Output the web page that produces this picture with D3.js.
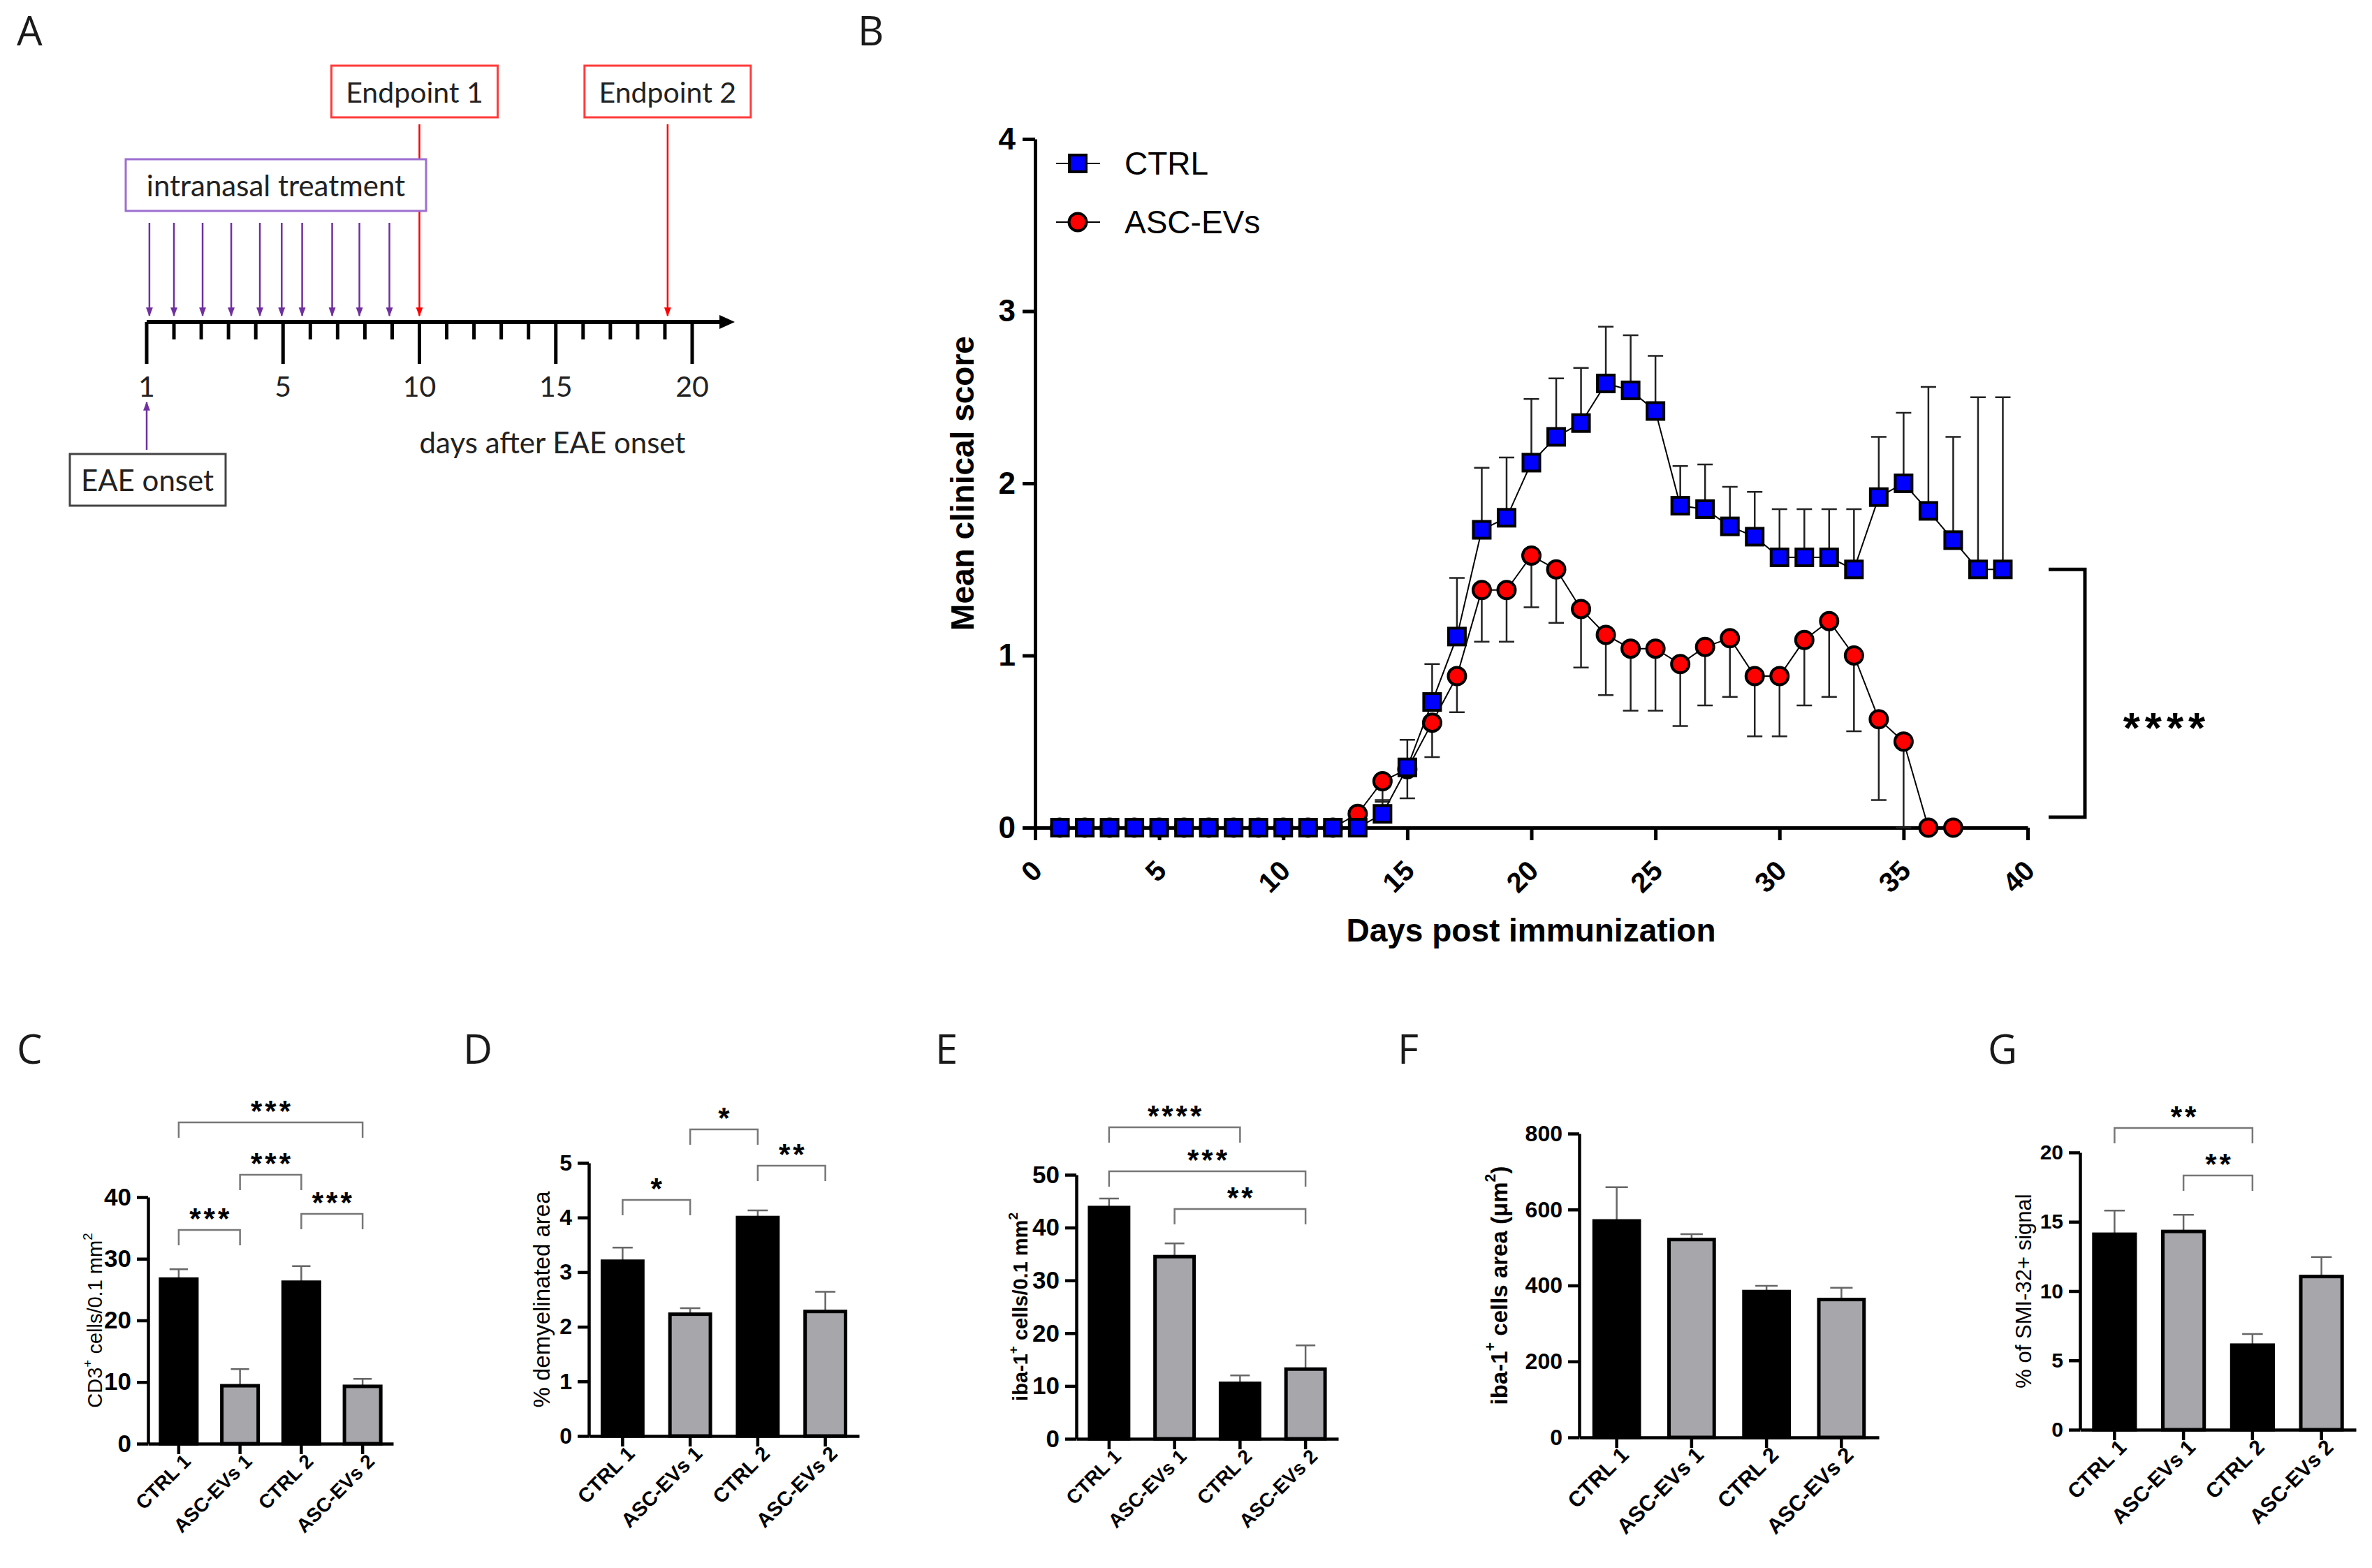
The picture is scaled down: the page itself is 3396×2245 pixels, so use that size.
<!DOCTYPE html>
<html>
<head>
<meta charset="utf-8">
<script src="https://cdn.jsdelivr.net/npm/d3@7"></script>
<style>
  body { margin: 0; background: #fff; }
  text { font-family: "Liberation Sans", Arial, sans-serif; }
</style>
</head>
<body>
<svg id="fig"></svg>
<script>
// ---------- Data ----------
// Panel A: schematic timeline
var timelineTickLabels = ["1", "5", "10", "15", "20"];
var timelineMajor = [0, 5, 10, 15, 20];
var treatmentPos = [0.1, 1.0, 2.05, 3.1, 4.15, 4.95, 5.7, 6.8, 7.8, 8.9];
var endpointPos = [10, 19.1];
var endpointNames = ["Endpoint 1", "Endpoint 2"];

// Panel B: clinical score
var days = [1,2,3,4,5,6,7,8,9,10,11,12,13,14,15,16,17,18,19,20,21,22,23,24,25,26,27,28,29,30,31,32,33,34,35,36,37,38,39];
var ctrlMean = [0,0,0,0,0,0,0,0,0,0,0,0,0,
  0.08,0.35,0.73,1.11,1.73,1.80,2.12,2.27,2.35,2.58,2.54,2.42,1.87,1.85,1.75,1.69,1.57,1.57,1.57,1.50,1.92,2.00,1.84,1.67,1.50,1.50];
var ctrlSem = [0,0,0,0,0,0,0,0,0,0,0,0,0,
  0.08,0.16,0.22,0.34,0.36,0.35,0.37,0.34,0.32,0.33,0.32,0.32,0.23,0.26,0.23,0.26,0.28,0.28,0.28,0.35,0.35,0.41,0.72,0.60,1.00,1.00];
var ascMean = [0,0,0,0,0,0,0,0,0,0,0,0,
  0.08,0.27,0.34,0.61,0.88,1.38,1.38,1.58,1.50,1.27,1.12,1.04,1.04,0.95,1.05,1.10,0.88,0.88,1.09,1.20,1.00,0.63,0.50,0,0];
var ascSem = [0,0,0,0,0,0,0,0,0,0,0,0,
  0,0.12,0.17,0.20,0.21,0.30,0.30,0.30,0.31,0.34,0.35,0.36,0.36,0.36,0.34,0.34,0.35,0.35,0.38,0.44,0.44,0.47,0.50,0,0];
var seriesNames = ["CTRL", "ASC-EVs"];

// Panels C-G: bar charts
var groups = ["CTRL 1", "ASC-EVs 1", "CTRL 2", "ASC-EVs 2"];
var cd3Mean = [26.7, 9.4, 26.2, 9.3];
var cd3Sem = [1.6, 2.7, 2.6, 1.2];
var cd3Sig = [[0, 1, "***"], [1, 2, "***"], [2, 3, "***"], [0, 3, "***"]];
var demyMean = [3.2, 2.23, 4.0, 2.28];
var demySem = [0.25, 0.11, 0.13, 0.36];
var demySig = [[0, 1, "*"], [1, 2, "*"], [2, 3, "**"]];
var iba1Mean = [43.8, 34.5, 10.5, 13.2];
var iba1Sem = [1.7, 2.5, 1.5, 4.5];
var iba1Sig = [[0, 2, "****"], [0, 3, "***"], [1, 3, "**"]];
var ibaAreaMean = [570, 521, 384, 363];
var ibaAreaSem = [89, 14, 15, 31];
var ibaAreaSig = [];
var smiMean = [14.1, 14.3, 6.1, 11.05];
var smiSem = [1.7, 1.2, 0.8, 1.4];
var smiSig = [[0, 2, "**"], [1, 2, "**"]];

// ---------- Setup ----------
var W = 3396, H = 2245;
var svg = d3.select("#fig").attr("width", W).attr("height", H);
svg.append("rect").attr("width", W).attr("height", H).attr("fill", "#fff");
var defs = svg.append("defs");
var intFmt = d3.format("d");

function addMarker(id, color) {
  defs.append("marker")
    .attr("id", id)
    .attr("viewBox", "0 0 10 10")
    .attr("refX", 9).attr("refY", 5)
    .attr("markerWidth", 13).attr("markerHeight", 13)
    .attr("markerUnits", "userSpaceOnUse")
    .attr("orient", "auto")
    .append("path").attr("d", "M0,1.2L10,5L0,8.8Z").attr("fill", color);
}
addMarker("arPurple", "#7030a0");
addMarker("arRed", "#ff0000");

// panel letters
var panelLetters = [["A", 24, 65], ["B", 1228, 65], ["C", 24, 1523], ["D", 663, 1523],
                    ["E", 1339, 1523], ["F", 2001, 1523], ["G", 2846, 1523]];
svg.selectAll(".plabel").data(panelLetters).enter().append("text")
  .attr("x", d => d[1]).attr("y", d => d[2])
  .style("font-family", "'Open Sans', sans-serif")
  .style("font-size", "58px").attr("fill", "#1a1a1a")
  .text(d => d[0]);

// ---------- Panel A ----------
var fontA = "Lato, 'Open Sans', sans-serif";
var xA = d3.scaleLinear().domain([0, 20]).range([210, 991]);
var axisYA = 461;
var gA = svg.append("g");

gA.append("line").attr("x1", xA(0)).attr("x2", 1036)
  .attr("y1", axisYA).attr("y2", axisYA)
  .attr("stroke", "#000").attr("stroke-width", 6);
gA.append("path")
  .attr("d", "M1030," + (axisYA - 10) + "L1052," + axisYA + "L1030," + (axisYA + 10) + "Z")
  .attr("fill", "#000");

gA.selectAll(".tk").data(d3.range(0, 21)).enter().append("line")
  .attr("x1", d => xA(d)).attr("x2", d => xA(d))
  .attr("y1", axisYA).attr("y2", d => axisYA + (d % 5 === 0 ? 60 : 25))
  .attr("stroke", "#000").attr("stroke-width", 5);

gA.selectAll(".tl").data(timelineMajor).enter().append("text")
  .attr("x", d => xA(d)).attr("y", 552)
  .attr("text-anchor", "middle").attr("dominant-baseline", "central")
  .style("font-family", fontA).style("font-size", "41px").attr("fill", "#222")
  .text((d, i) => timelineTickLabels[i]);

gA.selectAll(".tr").data(treatmentPos).enter().append("line")
  .attr("x1", d => xA(d)).attr("x2", d => xA(d))
  .attr("y1", 319).attr("y2", 452)
  .attr("stroke", "#7030a0").attr("stroke-width", 2.5)
  .attr("marker-end", "url(#arPurple)");

gA.selectAll(".ep").data(endpointPos).enter().append("line")
  .attr("x1", d => xA(d)).attr("x2", d => xA(d))
  .attr("y1", 178).attr("y2", 452)
  .attr("stroke", "#ff0000").attr("stroke-width", 2.5)
  .attr("marker-end", "url(#arRed)");

// endpoint boxes
var epBoxes = gA.selectAll(".epb").data(endpointPos).enter().append("g")
  .attr("transform", (d, i) => "translate(" + (xA(d) - (i === 0 ? 7 : 0)) + ",131)");
epBoxes.append("rect").attr("x", -119).attr("y", -37).attr("width", 238).attr("height", 74)
  .attr("fill", "#fff").attr("stroke", "#ff3b3b").attr("stroke-width", 3);
epBoxes.append("text").attr("text-anchor", "middle").attr("dominant-baseline", "central")
  .style("font-family", fontA).style("font-size", "41px").attr("fill", "#222")
  .text((d, i) => endpointNames[i]);

// intranasal treatment box
gA.append("rect").attr("x", 180).attr("y", 228).attr("width", 430).attr("height", 74)
  .attr("fill", "#fff").attr("stroke", "#9d6fd0").attr("stroke-width", 3);
gA.append("text").attr("x", 395).attr("y", 265)
  .attr("text-anchor", "middle").attr("dominant-baseline", "central")
  .style("font-family", fontA).style("font-size", "42px").attr("fill", "#222")
  .text("intranasal treatment");

// EAE onset
gA.append("line").attr("x1", xA(0)).attr("x2", xA(0)).attr("y1", 644).attr("y2", 576)
  .attr("stroke", "#7030a0").attr("stroke-width", 2.5).attr("marker-end", "url(#arPurple)");
gA.append("rect").attr("x", 100).attr("y", 650).attr("width", 223).attr("height", 74)
  .attr("fill", "#fff").attr("stroke", "#444").attr("stroke-width", 3);
gA.append("text").attr("x", 211).attr("y", 687)
  .attr("text-anchor", "middle").attr("dominant-baseline", "central")
  .style("font-family", fontA).style("font-size", "42px").attr("fill", "#222")
  .text("EAE onset");
gA.append("text").attr("x", 791).attr("y", 633)
  .attr("text-anchor", "middle").attr("dominant-baseline", "central")
  .style("font-family", fontA).style("font-size", "42px").attr("fill", "#222")
  .text("days after EAE onset");

// ---------- Panel B ----------
var xB = d3.scaleLinear().domain([0, 40]).range([1482, 2903]);
var yB = d3.scaleLinear().domain([0, 4]).range([1185, 199]);
var gB = svg.append("g");

var yAxisB = d3.axisLeft(yB).tickValues([0, 1, 2, 3, 4]).tickFormat(intFmt)
  .tickSize(18).tickSizeOuter(0).tickPadding(10);
var xAxisB = d3.axisBottom(xB).tickValues([0, 5, 10, 15, 20, 25, 30, 35, 40]).tickFormat(intFmt)
  .tickSize(18).tickSizeOuter(0);

var yaB = gB.append("g").attr("transform", "translate(1482,0)").call(yAxisB);
var xaB = gB.append("g").attr("transform", "translate(0,1185)").call(xAxisB);
[yaB, xaB].forEach(function(a) {
  a.selectAll("path, line").attr("stroke", "#000").attr("stroke-width", 5);
  a.selectAll("text").attr("fill", "#000").style("font-weight", "bold").style("font-size", "44px");
});
xaB.selectAll("text").style("font-size", "40px")
  .attr("text-anchor", "end").attr("y", 0).attr("dy", null)
  .attr("transform", "translate(12,64) rotate(-45)");

gB.append("text").attr("transform", "translate(1378,692) rotate(-90)")
  .attr("text-anchor", "middle").attr("dominant-baseline", "central")
  .style("font-weight", "bold").style("font-size", "46px").text("Mean clinical score");
gB.append("text").attr("x", 2192).attr("y", 1332)
  .attr("text-anchor", "middle").attr("dominant-baseline", "central")
  .style("font-weight", "bold").style("font-size", "46px").text("Days post immunization");

function seriesRows(mean, sem) {
  return mean.map((m, i) => ({ day: days[i], mean: m, sem: sem[i] }));
}
var ctrlRows = seriesRows(ctrlMean, ctrlSem);
var ascRows = seriesRows(ascMean, ascSem);
var lineB = d3.line().x(d => xB(d.day)).y(d => yB(d.mean));
var capB = 11;

function drawSeries(rows, up, shape, fill) {
  gB.append("path").datum(rows).attr("d", lineB)
    .attr("fill", "none").attr("stroke", "#000").attr("stroke-width", 2);
  gB.selectAll(null).data(rows.filter(d => d.sem > 0)).enter().append("path")
    .attr("d", function(d) {
      var x = xB(d.day), y1 = yB(d.mean);
      var y2 = yB(up ? d.mean + d.sem : Math.max(0, d.mean - d.sem));
      return "M" + x + "," + y1 + "V" + y2 + "M" + (x - capB) + "," + y2 + "H" + (x + capB);
    })
    .attr("fill", "none").attr("stroke", "#222").attr("stroke-width", 2.5);
  if (shape === "square") {
    gB.selectAll(null).data(rows).enter().append("rect")
      .attr("x", d => xB(d.day) - 12).attr("y", d => yB(d.mean) - 12)
      .attr("width", 24).attr("height", 24)
      .attr("fill", fill).attr("stroke", "#000").attr("stroke-width", 4);
  } else {
    gB.selectAll(null).data(rows).enter().append("circle")
      .attr("cx", d => xB(d.day)).attr("cy", d => yB(d.mean)).attr("r", 12.5)
      .attr("fill", fill).attr("stroke", "#000").attr("stroke-width", 4);
  }
}
drawSeries(ascRows, false, "circle", "#ff0000");
drawSeries(ctrlRows, true, "square", "#0000ff");

// legend
var legB = gB.selectAll(".leg").data(seriesNames).enter().append("g")
  .attr("transform", (d, i) => "translate(1543," + (234 + i * 84) + ")");
legB.append("line").attr("x1", -31).attr("x2", 32).attr("stroke", "#000").attr("stroke-width", 2);
legB.each(function(d, i) {
  var s = d3.select(this);
  if (i === 0) {
    s.append("rect").attr("x", -12).attr("y", -12).attr("width", 24).attr("height", 24)
      .attr("fill", "#0000ff").attr("stroke", "#000").attr("stroke-width", 4);
  } else {
    s.append("circle").attr("r", 12.5).attr("fill", "#ff0000").attr("stroke", "#000").attr("stroke-width", 4);
  }
});
legB.append("text").attr("x", 67).attr("dominant-baseline", "central")
  .style("font-size", "46px").text(d => d);

// significance bracket
var brTop = yB(ctrlMean[ctrlMean.length - 1]), brBot = yB(ascMean[ascMean.length - 1]);
gB.append("path").attr("d", "M2933," + brTop + "H2985V" + (brBot - 15) + "H2933")
  .attr("fill", "none").attr("stroke", "#000").attr("stroke-width", 5);
gB.append("text").attr("x", 3102).attr("y", 1063).attr("text-anchor", "middle")
  .style("font-weight", "bold").style("font-size", "62px").style("letter-spacing", "7px")
  .text("****");

// ---------- Panels C-G ----------
function drawBarPanel(cfg, means, sems, sig) {
  var g = svg.append("g");
  var x = d3.scaleBand().domain(groups).range([cfg.left, cfg.right]).paddingInner(0.35).paddingOuter(0.175);
  var y = d3.scaleLinear().domain([0, cfg.max]).range([cfg.bottom, cfg.top]);
  var cx = name => x(name) + x.bandwidth() / 2;
  var rows = groups.map((k, i) => ({ name: k, mean: means[i], sem: sems[i], idx: i }));
  var cap = x.bandwidth() * 0.23;

  g.selectAll(".eb").data(rows).enter().append("path")
    .attr("d", function(d) {
      var c = cx(d.name), y2 = y(d.mean + d.sem);
      return "M" + c + "," + y(d.mean) + "V" + y2 + "M" + (c - cap) + "," + y2 + "H" + (c + cap);
    })
    .attr("fill", "none").attr("stroke", "#666").attr("stroke-width", 2.5);

  g.selectAll(".bar").data(rows).enter().append("rect")
    .attr("x", d => x(d.name) + 2.5).attr("width", x.bandwidth() - 5)
    .attr("y", d => y(d.mean)).attr("height", d => y(0) - y(d.mean))
    .attr("fill", d => d.idx % 2 === 0 ? "#000" : "#a7a7ab")
    .attr("stroke", "#000").attr("stroke-width", 5);

  var yAxis = d3.axisLeft(y).tickValues(d3.range(0, cfg.max + cfg.step / 2, cfg.step))
    .tickFormat(intFmt).tickSize(16).tickSizeOuter(0).tickPadding(8);
  var xAxis = d3.axisBottom(x).tickSize(15).tickSizeOuter(0);
  var ya = g.append("g").attr("transform", "translate(" + cfg.left + ",0)").call(yAxis);
  var xa = g.append("g").attr("transform", "translate(0," + cfg.bottom + ")").call(xAxis);
  [ya, xa].forEach(function(a) {
    a.selectAll("path, line").attr("stroke", "#000").attr("stroke-width", 4.5);
    a.selectAll("text").attr("fill", "#000").style("font-weight", "bold");
  });
  ya.selectAll("text").style("font-size", cfg.tickFont + "px");
  xa.selectAll("text").style("font-size", cfg.xFont + "px")
    .attr("text-anchor", "end").attr("y", 0).attr("dy", null)
    .attr("transform", "translate(19,27) rotate(-45)");

  // y label
  var lab = g.append("text")
    .attr("transform", "translate(" + cfg.labelX + "," + (cfg.top + cfg.bottom) / 2 + ") rotate(-90)")
    .attr("text-anchor", "middle").attr("dominant-baseline", "central")
    .style("font-size", cfg.labelSize + "px").style("font-weight", cfg.labelWeight);
  cfg.label.forEach(function(p) {
    var t = lab.append("tspan").text(p[0]);
    if (p[1]) t.attr("baseline-shift", "super").style("font-size", "0.65em");
  });

  // significance brackets
  sig.forEach(function(s, k) {
    var lvl = cfg.brackets[k];
    var x1 = cx(groups[s[0]]), x2 = cx(groups[s[1]]);
    g.append("path").attr("d", "M" + x1 + "," + (lvl + 22) + "V" + lvl + "H" + x2 + "V" + (lvl + 22))
      .attr("fill", "none").attr("stroke", "#777").attr("stroke-width", 2.5);
    g.append("text").attr("x", (x1 + x2) / 2 + 2).attr("y", lvl - 26 + 24)
      .attr("text-anchor", "middle")
      .style("font-weight", "bold").style("font-size", "42px").style("letter-spacing", "4px")
      .text(s[2]);
  });
}

drawBarPanel({ left: 212, right: 563, bottom: 2067, top: 1714, max: 40, step: 10,
  tickFont: 35, xFont: 28, labelX: 136, labelSize: 29, labelWeight: "normal",
  label: [["CD3", 0], ["+", 1], [" cells/0.1 mm", 0], ["2", 1]],
  brackets: [1761, 1682, 1738, 1607] }, cd3Mean, cd3Sem, cd3Sig);

drawBarPanel({ left: 843, right: 1230, bottom: 2056, top: 1665, max: 5, step: 1,
  tickFont: 32, xFont: 29, labelX: 775, labelSize: 33, labelWeight: "normal",
  label: [["% demyelinated area", 0]],
  brackets: [1718, 1617, 1669] }, demyMean, demySem, demySig);

drawBarPanel({ left: 1541, right: 1916, bottom: 2060, top: 1682, max: 50, step: 10,
  tickFont: 35, xFont: 28, labelX: 1461, labelSize: 29, labelWeight: "bold",
  label: [["iba-1", 0], ["+", 1], [" cells/0.1 mm", 0], ["2", 1]],
  brackets: [1614, 1677, 1731] }, iba1Mean, iba1Sem, iba1Sig);

drawBarPanel({ left: 2261, right: 2690, bottom: 2058, top: 1623, max: 800, step: 200,
  tickFont: 32, xFont: 31, labelX: 2146, labelSize: 33, labelWeight: "bold",
  label: [["iba-1", 0], ["+", 1], [" cells area (\u03bcm", 0], ["2", 1], [")", 0]],
  brackets: [] }, ibaAreaMean, ibaAreaSem, ibaAreaSig);

drawBarPanel({ left: 2978, right: 3373, bottom: 2047, top: 1650, max: 20, step: 5,
  tickFont: 30, xFont: 30, labelX: 2897, labelSize: 31, labelWeight: "normal",
  label: [["% of SMI-32+ signal", 0]],
  brackets: [1615, 1683] }, smiMean, smiSem, smiSig);
</script>
</body>
</html>
